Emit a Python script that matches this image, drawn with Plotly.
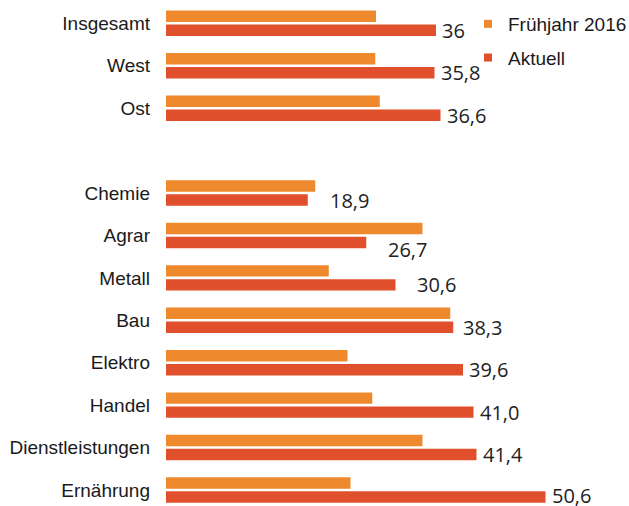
import plotly.graph_objects as go

# ---- data ----
categories = ["Insgesamt", "West", "Ost", None, "Chemie", "Agrar", "Metall", "Bau",
              "Elektro", "Handel", "Dienstleistungen", "Ernährung"]
fruehjahr_2016 = [28.0, 27.9, 28.5, None, 19.9, 34.2, 21.7, 37.9, 24.2, 27.5, 34.2, 24.6]
aktuell = [36.0, 35.8, 36.6, None, 18.9, 26.7, 30.6, 38.3, 39.6, 41.0, 41.4, 50.6]
aktuell_labels = ["36", "35,8", "36,6", None, "18,9", "26,7", "30,6", "38,3",
                  "39,6", "41,0", "41,4", "50,6"]
series_names = ["Frühjahr 2016", "Aktuell"]

# ---- style ----
col_f = "#EE8A2D"
col_a = "#E0502C"
label_nudge = {"Chemie": (16, 0), "Agrar": (16, -7), "Metall": (15, 0), "Bau": (4, 0),
               "Ernährung": (0, 2)}

n = len(categories)
pos = [n - 1 - i for i in range(n)]
keep = [i for i, c in enumerate(categories) if c is not None]
yv = [pos[i] for i in keep]
cats = [categories[i] for i in keep]
fv = [fruehjahr_2016[i] for i in keep]
av = [aktuell[i] for i in keep]
labs = [aktuell_labels[i] for i in keep]

bw = 0.27
fig = go.Figure()
fig.add_trace(go.Bar(y=yv, x=fv, orientation="h", base=0, width=bw, offset=0.03,
                     marker=dict(color=col_f, line=dict(width=0)), showlegend=False,
                     name=series_names[0]))
fig.add_trace(go.Bar(y=yv, x=av, orientation="h", base=0, width=bw, offset=-0.03 - bw,
                     marker=dict(color=col_a, line=dict(width=0)), showlegend=False,
                     name=series_names[1]))
# legend entries
for nm, col, grp in [(series_names[0], col_f, "g1"), (series_names[1], col_a, "g2")]:
    fig.add_trace(go.Scatter(x=[None], y=[None], mode="markers", name=nm, legendgroup=grp,
                             marker=dict(symbol="square", size=8, color=col)))

for c, v, y, t in zip(cats, av, yv, labs):
    dx, dy = label_nudge.get(c, (0, 0))
    fig.add_annotation(x=v, y=y - 0.03 - bw / 2, text=t, showarrow=False,
                       xanchor="left", yanchor="middle", xshift=4 + dx, yshift=0 + dy,
                       font=dict(family="Open Sans", size=20, color="#222222"))

slot_px = 42.43
fig.update_layout(
    width=629, height=506,
    margin=dict(l=166, r=0, t=0, b=0, autoexpand=False),
    paper_bgcolor="white", plot_bgcolor="white",
    barmode="overlay",
    font=dict(family="Liberation Sans, Arial", size=19, color="#1a1a1a"),
    xaxis=dict(range=[0, 463 / 7.5], visible=False, fixedrange=True),
    yaxis=dict(range=[-16 / slot_px, 11 + 23.3 / slot_px], tickmode="array",
               tickvals=yv, ticktext=cats, showgrid=False, zeroline=False,
               showline=False, ticks="", ticklabelstandoff=15, fixedrange=True,
               tickfont=dict(family="Liberation Sans, Arial", size=19, color="#1a1a1a")),
    legend=dict(x=(468 - 166) / 463, xanchor="left", y=1 - 5 / 506, yanchor="top",
                traceorder="grouped", tracegroupgap=6,
                font=dict(family="Liberation Sans, Arial", size=19, color="#1a1a1a"),
                bgcolor="rgba(0,0,0,0)"),
    showlegend=True,
)

fig.write_html("out.html", config={"displayModeBar": False},
               post_script="document.body.style.margin='0';")
